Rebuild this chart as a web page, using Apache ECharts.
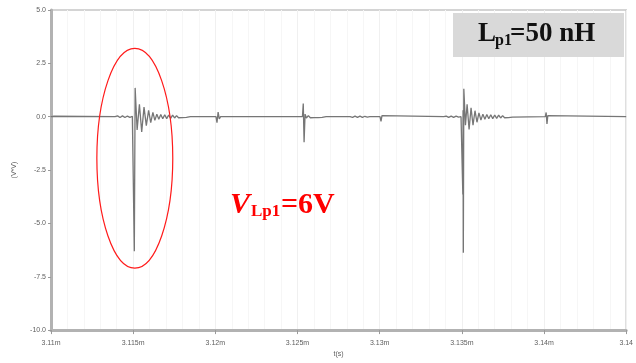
<!DOCTYPE html>
<html>
<head>
<meta charset="utf-8">
<script src="https://cdn.jsdelivr.net/npm/echarts@6/dist/echarts.min.js"></script>
<style>
  html, body { margin: 0; padding: 0; background: #ffffff; }
  #chart { width: 636px; height: 363px; }
</style>
</head>
<body>
<div id="chart"></div>
<script>
// Time is kept in microseconds (3110 us = 3.11 ms); voltage in volts.
const xTickLabels = ['3.11m', '3.115m', '3.12m', '3.125m', '3.13m', '3.135m', '3.14m', '3.14'];
const yTickLabels = ['-10.0', '-7.5', '-5.0', '-2.5', '0.0', '2.5', '5.0'];

// Sampled waveform: time (us) and voltage (V), point by point.
const timeUs = [
  3110.00, 3110.06, 3110.14, 3110.22, 3113.90,
  3114.05, 3114.20, 3114.35, 3114.50, 3114.65, 3114.80, 3114.95, 3115.03,
  3115.07, 3115.12,
  3115.24, 3115.38, 3115.52, 3115.66, 3115.80, 3115.94, 3116.07, 3116.20,
  3116.32, 3116.44, 3116.56, 3116.68, 3116.80, 3116.92, 3117.04, 3117.16,
  3117.28, 3117.40, 3117.52, 3117.64, 3117.76, 3117.88, 3118.00, 3118.12,
  3118.24, 3118.36, 3118.48,
  3120.04, 3120.10, 3120.17, 3120.24, 3120.32,
  3123.30, 3123.36, 3123.42,
  3125.30, 3125.35, 3125.40, 3125.46, 3125.54, 3125.66, 3125.78, 3125.90,
  3126.02, 3126.14, 3126.26, 3126.38, 3126.50, 3126.62, 3126.74,
  3128.20, 3128.35, 3128.50, 3128.65, 3128.80, 3128.95, 3129.10, 3129.25, 3129.40,
  3130.02, 3130.08, 3130.14, 3130.20,
  3133.90, 3134.05, 3134.20, 3134.35, 3134.50, 3134.65, 3134.80, 3134.95,
  3135.03, 3135.06, 3135.075, 3135.09, 3135.12,
  3135.22, 3135.32, 3135.44, 3135.56, 3135.68, 3135.80, 3135.92, 3136.04,
  3136.16, 3136.28, 3136.40, 3136.52, 3136.64, 3136.76, 3136.88, 3137.00,
  3137.12, 3137.24, 3137.36, 3137.48, 3137.60, 3137.72, 3137.84, 3137.96,
  3138.08, 3138.20,
  3140.08, 3140.13, 3140.18, 3140.23, 3140.30,
  3145.00
];
const volts = [
  0, -0.06, 0.02, 0, 0,
  0.04, -0.04, 0.04, -0.04, 0.03, -0.03, 0.02, 0,
  -6.30, 1.35,
  -0.62, 0.58, -0.72, 0.45, -0.42, 0.30, -0.28, 0.20,
  -0.17, 0.12, -0.12, 0.10, -0.10, 0.09, -0.09, 0.08,
  -0.08, 0.07, -0.06, 0.05, -0.05, 0.04, -0.04, 0.03,
  -0.03, 0.02, 0,
  0, -0.28, 0.22, -0.10, 0,
  0, -0.05, 0,
  0, 0.62, -1.20, 0.12, -0.06, 0.05, -0.05, 0.04,
  -0.04, 0.04, -0.04, 0.03, -0.03, 0.02, 0,
  0, -0.03, 0.03, -0.03, 0.03, -0.03, 0.02, -0.02, 0,
  0, -0.22, 0.05, 0,
  0, 0.03, -0.03, 0.03, -0.03, 0.03, -0.02, 0,
  0, -3.65, 0.30, -6.38, 1.31,
  -0.40, 0.58, -0.60, 0.42, -0.40, 0.28, -0.26, 0.18,
  -0.16, 0.12, -0.12, 0.10, -0.10, 0.09, -0.09, 0.08,
  -0.08, 0.07, -0.06, 0.05, -0.05, 0.04, -0.04, 0.03,
  -0.02, 0,
  0, 0.20, -0.34, 0.05, 0,
  0
];

const waveform = timeUs.map((t, i) => [t, volts[i]]);

const chart = echarts.init(document.getElementById('chart'), null, { renderer: 'canvas' });

const axisFont = { fontFamily: '"Liberation Sans", Arial, sans-serif', fontSize: 7, color: '#5e5e5e' };
const serif = '"Liberation Serif", "Times New Roman", serif';

chart.setOption({
  animation: false,
  backgroundColor: '#ffffff',
  grid: {
    left: 51, right: 9, top: 10, bottom: 29,
    show: true, borderColor: '#c6c6c6', borderWidth: 1.5, backgroundColor: 'transparent'
  },
  xAxis: {
    type: 'value',
    min: 3110, max: 3145, interval: 5,
    name: 't(s)', nameLocation: 'middle', nameGap: 19,
    nameTextStyle: axisFont,
    axisLine: { onZero: false, lineStyle: { color: '#b2b2b2', width: 3 } },
    axisTick: { show: true, length: 4, lineStyle: { color: '#9a9a9a', width: 1 } },
    axisLabel: Object.assign({
      margin: 9,
      formatter: v => xTickLabels[Math.round((v - 3110) / 5)]
    }, axisFont),
    splitLine: { show: true, lineStyle: { color: '#f0f0f0', width: 1 } },
    minorTick: { show: false, splitNumber: 5 },
    minorSplitLine: { show: true, lineStyle: { color: '#f6f6f6', width: 1 } }
  },
  yAxis: {
    type: 'value',
    min: -10, max: 5, interval: 2.5,
    name: '(V*V)', nameLocation: 'middle', nameGap: 33, nameRotate: 90,
    nameTextStyle: axisFont,
    axisLine: { show: true, lineStyle: { color: '#b2b2b2', width: 3 } },
    axisTick: { show: true, length: 3, lineStyle: { color: '#9a9a9a', width: 1 } },
    axisLabel: Object.assign({
      margin: 5,
      formatter: v => yTickLabels[Math.round((v + 10) / 2.5)]
    }, axisFont),
    splitLine: { show: false }
  },
  series: [{
    type: 'line',
    data: waveform,
    showSymbol: false,
    symbol: 'none',
    lineStyle: { color: '#767676', width: 1.3 },
    z: 3
  }]
});

// Annotation ellipse around the first switching event, placed in data units.
const ringCenter = [3115.1, -1.95];
const ringRadius = [2.31, 5.15];
const c = chart.convertToPixel({ gridIndex: 0 }, ringCenter);
const e = chart.convertToPixel({ gridIndex: 0 }, [ringCenter[0] + ringRadius[0], ringCenter[1] + ringRadius[1]]);

chart.setOption({
  graphic: [
    {
      type: 'ellipse',
      shape: { cx: c[0], cy: c[1], rx: Math.abs(e[0] - c[0]), ry: Math.abs(c[1] - e[1]) },
      style: { fill: 'none', stroke: '#ff1a1a', lineWidth: 1.2 },
      z: 10
    },
    // Red voltage label
    { type: 'text', left: 230, top: 190, z: 10,
      style: { text: 'V', font: 'italic bold 30px ' + serif, fill: '#ff0000' } },
    { type: 'text', left: 251, top: 203, z: 10,
      style: { text: 'Lp1', font: 'bold 17px ' + serif, fill: '#ff0000' } },
    { type: 'text', left: 281, top: 190, z: 10,
      style: { text: '=6V', font: 'bold 30px ' + serif, fill: '#ff0000' } },
    // Inductance tag box
    { type: 'rect', shape: { x: 453, y: 13, width: 171, height: 44 },
      style: { fill: '#d9d9d9' }, z: 9 },
    { type: 'text', left: 478, top: 21, z: 10,
      style: { text: 'L', font: 'bold 27px ' + serif, fill: '#111' } },
    { type: 'text', left: 495, top: 33, z: 10,
      style: { text: 'p1', font: 'bold 16px ' + serif, fill: '#111' } },
    { type: 'text', left: 510, top: 21, z: 10,
      style: { text: '=50 nH', font: 'bold 27px ' + serif, fill: '#111' } }
  ]
});
</script>
</body>
</html>
